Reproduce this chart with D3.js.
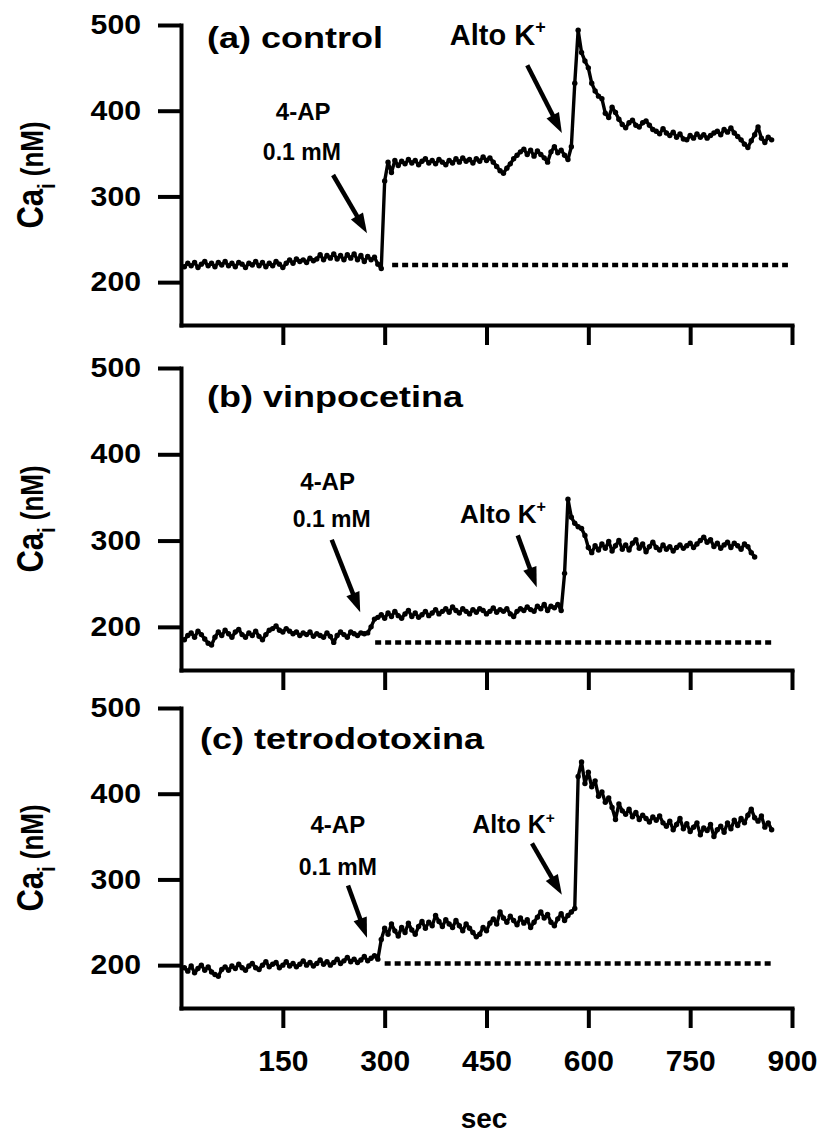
<!DOCTYPE html>
<html>
<head>
<meta charset="utf-8">
<script src="https://cdn.jsdelivr.net/npm/d3@7"></script>
<style>
body { margin: 0; background: #fff; }
text { font-family: "Liberation Sans", Arial, sans-serif; font-weight: bold; fill: #000; }
</style>
</head>
<body>
<svg id="chart" width="821" height="1137"></svg>
<script>
// tick values
var xTicks = [150, 300, 450, 600, 750, 900];
var yTicks = [200, 300, 400, 500];
var step = 5; // sec between samples, first sample at 5 s

// Ca_i traces (nM), one value every 5 s
var controlVals = [
 218,222,219,223,217,221,224,219,222,218,223,220,224,219,222,218,223,221,217,222,
 220,224,219,223,218,222,219,224,221,217,222,226,222,227,224,226,223,228,225,227,
 232,226,231,228,233,227,231,226,232,228,233,226,231,224,230,226,229,221,216,318,
 340,328,342,336,341,338,343,339,342,337,341,344,339,342,338,343,340,337,342,339,
 344,340,345,341,343,339,344,341,346,342,345,340,335,330,327,333,338,344,348,352,
 355,349,354,347,353,349,345,340,352,358,351,354,348,343,358,432,494,468,458,450,
 432,423,417,414,397,392,404,398,390,384,380,386,389,383,381,386,388,383,378,376,
 373,379,374,371,375,369,373,367,366,371,368,373,369,372,368,371,374,376,372,378,
 375,380,374,370,366,361,357,365,372,381,368,363,369,366
];
var vinpoVals = [
 185,190,193,188,195,191,186,181,179,188,194,190,196,192,188,194,197,191,188,193,
 190,195,189,185,191,196,198,201,196,194,198,195,192,194,190,193,191,194,189,192,
 190,188,193,189,182,190,194,191,188,194,192,190,193,192,193,200,209,211,214,210,
 216,212,218,213,210,215,219,212,216,211,214,218,213,216,220,215,218,221,217,223,
 219,216,221,218,215,220,217,221,219,215,218,222,217,220,218,221,215,212,218,221,
 219,223,220,218,224,221,226,219,224,222,226,219,262,348,327,320,316,314,306,292,
 286,294,289,296,291,299,288,294,300,290,295,289,297,301,291,296,287,293,298,292,
 289,295,290,293,288,292,295,291,294,297,292,296,300,304,298,301,293,297,291,295,
 298,292,297,294,290,296,293,286,281
];
var ttxVals = [
 197,193,199,191,196,200,194,198,192,189,187,195,198,194,199,196,201,197,194,199,
 202,197,195,200,204,198,201,203,197,200,204,199,202,198,201,205,200,203,199,202,
 206,201,204,200,203,207,202,205,209,204,207,203,206,210,205,208,211,207,230,243,
 236,248,240,234,244,238,249,241,236,245,251,243,250,246,258,251,245,253,248,244,
 252,246,240,248,243,238,233,236,244,240,249,254,248,262,255,250,257,252,247,255,
 249,253,244,250,256,262,255,259,250,246,254,260,252,258,262,266,420,437,412,425,
 408,415,397,402,390,395,384,370,388,380,376,382,373,378,370,375,371,367,373,369,
 374,366,362,368,358,364,371,359,365,356,361,366,352,360,357,364,350,358,362,355,
 366,359,369,363,371,366,375,382,372,368,374,361,366,358
];

// dotted baseline: [value, from sec, to sec]
var controlBase = [220, 311, 894];
var vinpoBase = [182, 286, 872];
var ttxBase = [202, 300, 870];

var titles = ["(a) control", "(b) vinpocetina", "(c) tetrodotoxina"];

var panels = [
  {title: titles[0], vals: controlVals, base: controlBase, top: 25, bottom: 325, titleX: 207, titleY: 23,
   ap: [180, 389, 178, 343], apArrow: [224, 325, 274, 257],
   k: [396, 477, 29], kArrow: [510, 453, 561, 374]},
  {title: titles[1], vals: vinpoVals, base: vinpoBase, top: 368, bottom: 670, titleX: 207, titleY: 39,
   ap: [216, 359, 222, 316], apArrow: [222, 301, 264, 217],
   k: [411, 320, 26], kArrow: [496, 306, 524, 246]},
  {title: titles[2], vals: ttxVals, base: ttxBase, top: 708, bottom: 1008, titleX: 200, titleY: 41,
   ap: [231, 354, 231, 305], apArrow: [246, 293, 274, 232],
   k: [429, 354, 25], kArrow: [517, 342, 561, 282]}
];

var svg = d3.select("#chart");
var x = d3.scaleLinear().domain([0, 900]).range([181, 792]);

function arrow(g, x1, y1, x2, y2) {
  var dx = x2 - x1, dy = y2 - y1;
  var len = Math.sqrt(dx * dx + dy * dy);
  var ux = dx / len, uy = dy / len;
  var hl = 20, hw = 7;
  var bx = x2 - ux * hl, by = y2 - uy * hl;
  g.append("line")
    .attr("x1", x1).attr("y1", y1).attr("x2", bx + ux * 2).attr("y2", by + uy * 2)
    .attr("stroke", "#000").attr("stroke-width", 4.5);
  g.append("path")
    .attr("d", "M" + x2 + "," + y2 +
      "L" + (bx - uy * hw) + "," + (by + ux * hw) +
      "L" + (bx + uy * hw) + "," + (by - ux * hw) + "Z")
    .attr("fill", "#000");
}

panels.forEach(function(p, pi) {
  var y = d3.scaleLinear().domain([150, 500]).range([p.bottom, p.top]);
  var g = svg.append("g");

  // y axis
  var ya = g.append("g")
    .attr("transform", "translate(181,0)")
    .call(d3.axisLeft(y).tickValues(yTicks).tickSize(23).tickSizeOuter(0).tickPadding(17));
  ya.selectAll("line").attr("stroke-width", 4);
  ya.select(".domain").attr("stroke-width", 4).attr("stroke-linecap", "square");
  ya.selectAll("text")
    .attr("x", -40 / 1.12)
    .attr("transform", "scale(1.12,1)")
    .style("font-size", "27px")
    .style("font-family", "Liberation Sans, Arial, sans-serif")
    .style("font-weight", "bold");

  // x axis
  var xa = g.append("g")
    .attr("transform", "translate(0," + p.bottom + ")")
    .call(d3.axisBottom(x).tickValues(xTicks).tickSize(20).tickSizeOuter(0).tickPadding(22)
      .tickFormat(pi === 2 ? d3.format("d") : function() { return ""; }));
  xa.selectAll("line").attr("stroke-width", 4);
  xa.select(".domain").attr("stroke-width", 4).attr("stroke-linecap", "square");
  xa.selectAll("text")
    .style("font-size", "30px")
    .style("font-family", "Liberation Sans, Arial, sans-serif")
    .style("font-weight", "bold");

  // dotted baseline
  g.append("line")
    .attr("x1", x(p.base[1])).attr("x2", x(p.base[2]))
    .attr("y1", y(p.base[0])).attr("y2", y(p.base[0]))
    .attr("stroke", "#000").attr("stroke-width", 4.5)
    .attr("stroke-dasharray", "6,4");

  // trace
  var pts = p.vals.map(function(v, i) { return [(i + 1) * step, v]; });
  var line = d3.line().x(function(d) { return x(d[0]); }).y(function(d) { return y(d[1]); });
  g.append("path").datum(pts)
    .attr("d", line)
    .attr("fill", "none").attr("stroke", "#000").attr("stroke-width", 3.4)
    .attr("stroke-linejoin", "round");
  g.selectAll("circle.pt").data(pts).enter().append("circle")
    .attr("class", "pt")
    .attr("cx", function(d) { return x(d[0]); })
    .attr("cy", function(d) { return y(d[1]); })
    .attr("r", 2.7).attr("fill", "#000");

  // title
  g.append("text")
    .attr("transform", "translate(" + p.titleX + "," + (p.top + p.titleY) + ") scale(1.2,1)")
    .style("font-size", "30px")
    .text(p.title);

  // 4-AP annotation
  g.append("text").attr("x", x(p.ap[0])).attr("y", y(p.ap[1]))
    .attr("text-anchor", "middle").style("font-size", "24px").text("4-AP");
  g.append("text").attr("x", x(p.ap[2])).attr("y", y(p.ap[3]))
    .attr("text-anchor", "middle").style("font-size", "23px").text("0.1 mM");
  arrow(g, x(p.apArrow[0]), y(p.apArrow[1]), x(p.apArrow[2]), y(p.apArrow[3]));

  // Alto K+ annotation
  var kt = g.append("text").attr("x", x(p.k[0])).attr("y", y(p.k[1]))
    .style("font-size", p.k[2] + "px");
  kt.append("tspan").text("Alto K");
  kt.append("tspan").attr("dy", -p.k[2] * 0.42).style("font-size", (p.k[2] * 0.62) + "px").text("+");
  arrow(g, x(p.kArrow[0]), y(p.kArrow[1]), x(p.kArrow[2]), y(p.kArrow[3]));

  // y label
  var mid = (p.top + p.bottom) / 2;
  var yl = g.append("text")
    .attr("transform", "translate(43," + mid + ") scale(1.2,1) rotate(-90)")
    .attr("text-anchor", "middle")
    .style("font-size", "31px");
  yl.append("tspan").text("Ca");
  yl.append("tspan").attr("dy", 10).style("font-size", "20px").text("i");
  yl.append("tspan").attr("dy", -10).style("font-size", "26px").text(" (nM)");
});

svg.append("text")
  .attr("x", 484).attr("y", 1128)
  .attr("text-anchor", "middle")
  .style("font-size", "28px")
  .text("sec");
</script>
</body>
</html>
